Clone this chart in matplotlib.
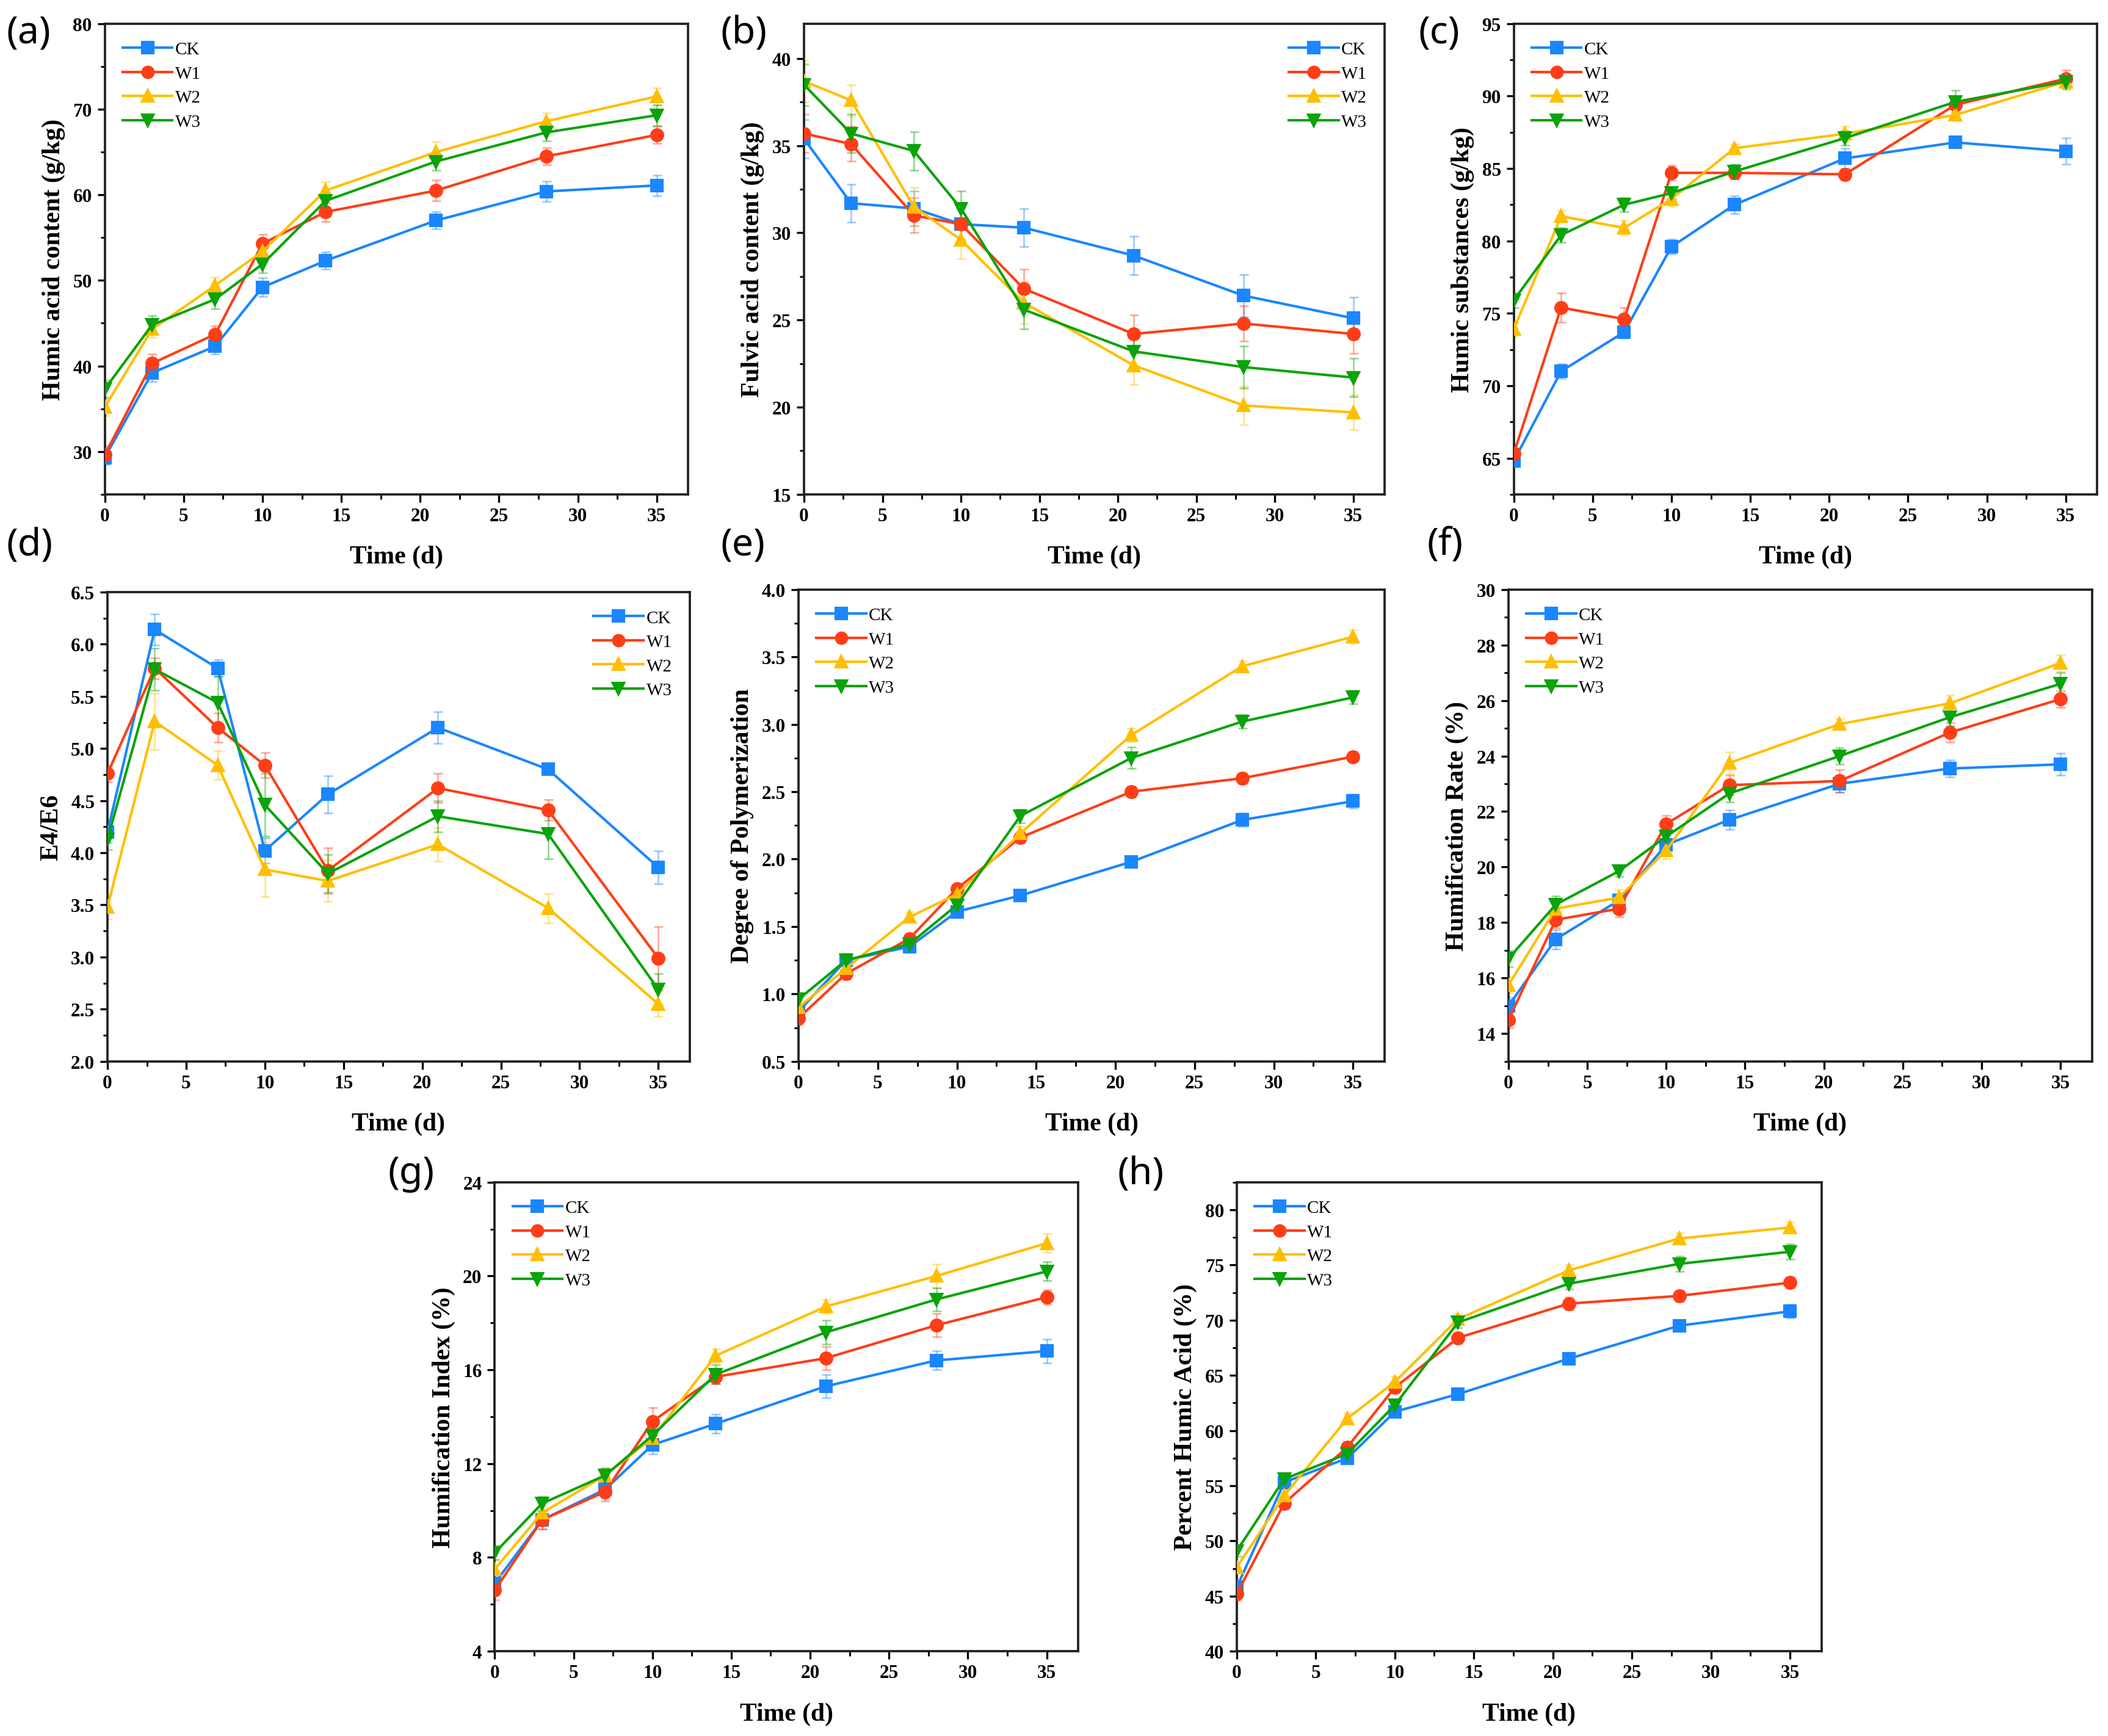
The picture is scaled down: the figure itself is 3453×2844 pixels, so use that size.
import matplotlib
matplotlib.use("Agg")
import matplotlib.pyplot as plt
from matplotlib.ticker import MultipleLocator, FormatStrFormatter

days = [0, 3, 7, 10, 14, 21, 28, 35]
groups = ["CK", "W1", "W2", "W3"]
colors = ["#1a86ff", "#ff3d17", "#ffbf00", "#0aa30a"]
markers = ["s", "o", "^", "v"]

# (a) Humic acid content (g/kg)
ha_ck = [29.3, 39.2, 42.3, 49.2, 52.3, 57.0, 60.4, 61.1]
ha_w1 = [29.6, 40.3, 43.7, 54.3, 58.0, 60.5, 64.5, 67.0]
ha_w2 = [35.2, 44.3, 49.4, 53.4, 60.5, 65.0, 68.6, 71.5]
ha_w3 = [37.3, 44.8, 47.8, 51.9, 59.3, 63.9, 67.3, 69.3]
ha_err_ck = [0.8, 1.0, 0.9, 1.1, 1.0, 1.0, 1.2, 1.2]
ha_err_w1 = [1.0, 1.1, 1.0, 1.1, 1.1, 1.2, 1.0, 1.0]
ha_err_w2 = [1.0, 1.0, 1.0, 1.2, 1.0, 1.2, 1.0, 1.0]
ha_err_w3 = [1.0, 1.1, 1.1, 1.0, 1.0, 1.0, 1.0, 1.2]

# (b) Fulvic acid content (g/kg)
fa_ck = [35.4, 31.7, 31.4, 30.5, 30.3, 28.7, 26.4, 25.1]
fa_w1 = [35.7, 35.1, 31.0, 30.5, 26.8, 24.2, 24.8, 24.2]
fa_w2 = [38.7, 37.6, 31.5, 29.6, 26.0, 22.4, 20.1, 19.7]
fa_w3 = [38.5, 35.7, 34.7, 31.4, 25.6, 23.2, 22.3, 21.7]
fa_err_ck = [1.1, 1.1, 1.0, 0.9, 1.1, 1.1, 1.2, 1.2]
fa_err_w1 = [1.1, 1.0, 1.0, 1.0, 1.1, 1.1, 1.0, 1.1]
fa_err_w2 = [1.2, 0.9, 1.1, 1.1, 1.2, 1.1, 1.1, 1.0]
fa_err_w3 = [1.2, 1.1, 1.1, 1.0, 1.1, 1.0, 1.2, 1.1]

# (c) Humic substances (g/kg)
hs_ck = [64.8, 71.0, 73.7, 79.6, 82.5, 85.7, 86.8, 86.2]
hs_w1 = [65.3, 75.4, 74.6, 84.7, 84.7, 84.6, 89.4, 91.2]
hs_w2 = [73.9, 81.7, 80.9, 82.9, 86.4, 87.4, 88.7, 91.0]
hs_w3 = [75.9, 80.4, 82.5, 83.3, 84.8, 87.1, 89.6, 91.0]
hs_err_ck = [0.4, 0.5, 0.4, 0.5, 0.6, 0.7, 0.3, 0.9]
hs_err_w1 = [0.4, 1.0, 0.8, 0.5, 0.4, 0.4, 0.5, 0.6]
hs_err_w2 = [0.5, 0.4, 0.5, 0.5, 0.3, 0.5, 0.4, 0.4]
hs_err_w3 = [0.5, 0.5, 0.5, 0.4, 0.5, 0.5, 0.8, 0.5]

# (d) E4/E6
e46_ck = [4.20, 6.14, 5.77, 4.02, 4.56, 5.20, 4.80, 3.86]
e46_w1 = [4.76, 5.77, 5.20, 4.84, 3.83, 4.62, 4.41, 2.99]
e46_w2 = [3.48, 5.26, 4.84, 3.84, 3.73, 4.08, 3.47, 2.55]
e46_w3 = [4.13, 5.76, 5.44, 4.46, 3.80, 4.35, 4.18, 2.69]
e46_err_ck = [0.10, 0.15, 0.08, 0.12, 0.18, 0.15, 0.05, 0.16]
e46_err_w1 = [0.08, 0.10, 0.14, 0.12, 0.22, 0.14, 0.10, 0.30]
e46_err_w2 = [0.12, 0.27, 0.14, 0.26, 0.20, 0.16, 0.14, 0.12]
e46_err_w3 = [0.10, 0.20, 0.25, 0.30, 0.18, 0.15, 0.24, 0.15]

# (e) Degree of Polymerization
dp_ck = [0.87, 1.25, 1.35, 1.61, 1.73, 1.98, 2.29, 2.43]
dp_w1 = [0.82, 1.15, 1.41, 1.78, 2.16, 2.50, 2.60, 2.76]
dp_w2 = [0.90, 1.19, 1.57, 1.74, 2.19, 2.92, 3.43, 3.65]
dp_w3 = [0.96, 1.25, 1.37, 1.66, 2.32, 2.75, 3.02, 3.20]
dp_err_ck = [0.04, 0.04, 0.04, 0.04, 0.04, 0.04, 0.05, 0.05]
dp_err_w1 = [0.05, 0.04, 0.04, 0.04, 0.04, 0.04, 0.04, 0.04]
dp_err_w2 = [0.05, 0.05, 0.04, 0.05, 0.05, 0.05, 0.04, 0.05]
dp_err_w3 = [0.05, 0.05, 0.05, 0.05, 0.05, 0.08, 0.05, 0.05]

# (f) Humification Rate (%)
hr_ck = [15.0, 17.4, 18.8, 20.8, 21.7, 23.0, 23.55, 23.7]
hr_w1 = [14.5, 18.1, 18.5, 21.55, 22.95, 23.1, 24.85, 26.05]
hr_w2 = [15.75, 18.5, 18.9, 20.6, 23.75, 25.15, 25.9, 27.35]
hr_w3 = [16.7, 18.65, 19.85, 21.1, 22.65, 24.0, 25.4, 26.6]
hr_err_ck = [0.30, 0.35, 0.25, 0.35, 0.35, 0.30, 0.30, 0.40]
hr_err_w1 = [0.30, 0.30, 0.30, 0.30, 0.35, 0.40, 0.35, 0.30]
hr_err_w2 = [0.30, 0.30, 0.30, 0.30, 0.40, 0.20, 0.30, 0.30]
hr_err_w3 = [0.30, 0.30, 0.20, 0.30, 0.30, 0.30, 0.30, 0.40]

# (g) Humification Index (%)
hi_ck = [6.9, 9.6, 10.9, 12.8, 13.7, 15.3, 16.4, 16.8]
hi_w1 = [6.6, 9.6, 10.8, 13.8, 15.7, 16.5, 17.9, 19.1]
hi_w2 = [7.5, 9.9, 11.5, 13.1, 16.6, 18.7, 20.0, 21.4]
hi_w3 = [8.2, 10.3, 11.5, 13.2, 15.8, 17.6, 19.0, 20.2]
hi_err_ck = [0.4, 0.4, 0.4, 0.4, 0.4, 0.5, 0.4, 0.5]
hi_err_w1 = [0.4, 0.4, 0.4, 0.6, 0.3, 0.5, 0.5, 0.3]
hi_err_w2 = [0.4, 0.4, 0.3, 0.3, 0.3, 0.3, 0.5, 0.4]
hi_err_w3 = [0.3, 0.3, 0.3, 0.3, 0.4, 0.5, 0.5, 0.4]

# (h) Percent Humic Acid (%)
pha_ck = [45.8, 55.3, 57.5, 61.7, 63.3, 66.5, 69.5, 70.8]
pha_w1 = [45.2, 53.4, 58.5, 63.9, 68.4, 71.5, 72.2, 73.4]
pha_w2 = [47.6, 54.1, 61.1, 64.4, 70.1, 74.5, 77.4, 78.4]
pha_w3 = [49.1, 55.6, 57.9, 62.3, 69.8, 73.3, 75.1, 76.2]
pha_err_ck = [0.6, 0.5, 0.5, 0.5, 0.5, 0.5, 0.5, 0.6]
pha_err_w1 = [0.6, 0.5, 0.5, 0.5, 0.5, 0.6, 0.5, 0.5]
pha_err_w2 = [0.5, 0.6, 0.5, 0.5, 0.5, 0.5, 0.5, 0.5]
pha_err_w3 = [0.5, 0.5, 0.5, 0.5, 0.5, 0.5, 0.7, 0.7]

panels = [
    dict(tag="(a)", series=[ha_ck, ha_w1, ha_w2, ha_w3],
         errs=[ha_err_ck, ha_err_w1, ha_err_w2, ha_err_w3],
         ylabel="Humic acid content (g/kg)", ylim=(25, 80), major=10, minor=5,
         fmt="%d", leg="upper left",
         rect=[0.0497, 0.715, 0.2768, 0.271], tagpos=(0.003, 0.981)),
    dict(tag="(b)", series=[fa_ck, fa_w1, fa_w2, fa_w3],
         errs=[fa_err_ck, fa_err_w1, fa_err_w2, fa_err_w3],
         ylabel="Fulvic acid content (g/kg)", ylim=(15, 42), major=5, minor=2.5,
         fmt="%d", leg="upper right",
         rect=[0.3814, 0.715, 0.2755, 0.271], tagpos=(0.342, 0.981)),
    dict(tag="(c)", series=[hs_ck, hs_w1, hs_w2, hs_w3],
         errs=[hs_err_ck, hs_err_w1, hs_err_w2, hs_err_w3],
         ylabel="Humic substances (g/kg)", ylim=(62.5, 95), major=5, minor=2.5,
         fmt="%d", leg="upper left",
         rect=[0.7181, 0.715, 0.2768, 0.271], tagpos=(0.673, 0.981)),
    dict(tag="(d)", series=[e46_ck, e46_w1, e46_w2, e46_w3],
         errs=[e46_err_ck, e46_err_w1, e46_err_w2, e46_err_w3],
         ylabel="E4/E6", ylim=(2.0, 6.5), major=0.5, minor=0.25,
         fmt="%.1f", leg="upper right",
         rect=[0.0510, 0.3885, 0.2762, 0.2702], tagpos=(0.003, 0.686)),
    dict(tag="(e)", series=[dp_ck, dp_w1, dp_w2, dp_w3],
         errs=[dp_err_ck, dp_err_w1, dp_err_w2, dp_err_w3],
         ylabel="Degree of Polymerization", ylim=(0.5, 4.0), major=0.5, minor=0.25,
         fmt="%.1f", leg="upper left",
         rect=[0.3788, 0.3885, 0.2781, 0.2717], tagpos=(0.342, 0.686)),
    dict(tag="(f)", series=[hr_ck, hr_w1, hr_w2, hr_w3],
         errs=[hr_err_ck, hr_err_w1, hr_err_w2, hr_err_w3],
         ylabel="Humification Rate (%)", ylim=(13, 30), major=2, minor=1,
         fmt="%d", leg="upper left",
         rect=[0.7156, 0.3885, 0.2768, 0.2717], tagpos=(0.677, 0.686)),
    dict(tag="(g)", series=[hi_ck, hi_w1, hi_w2, hi_w3],
         errs=[hi_err_ck, hi_err_w1, hi_err_w2, hi_err_w3],
         ylabel="Humification Index (%)", ylim=(4, 24), major=4, minor=2,
         fmt="%d", leg="upper left",
         rect=[0.2347, 0.0488, 0.2768, 0.2701], tagpos=(0.184, 0.324)),
    dict(tag="(h)", series=[pha_ck, pha_w1, pha_w2, pha_w3],
         errs=[pha_err_ck, pha_err_w1, pha_err_w2, pha_err_w3],
         ylabel="Percent Humic Acid (%)", ylim=(40, 82.5), major=5, minor=2.5,
         fmt="%d", leg="upper left",
         rect=[0.5867, 0.0488, 0.2774, 0.2701], tagpos=(0.530, 0.324)),
]

serif = ["Liberation Serif", "DejaVu Serif"]
fig = plt.figure(figsize=(3453 / 300, 2845 / 300), dpi=300)

for p in panels:
    ax = fig.add_axes(p["rect"])
    for name, vals, err, c, m in zip(groups, p["series"], p["errs"], colors, markers):
        ax.errorbar(days, vals, yerr=err, fmt="none", ecolor=c, alpha=0.4,
                    elinewidth=0.7, capsize=1.8, capthick=0.7, zorder=2)
        ax.plot(days, vals, color=c, marker=m, markersize=4.5, linewidth=1.0,
                label=name, zorder=3)
    ax.set_xlim(0, 37)
    ax.set_ylim(*p["ylim"])
    ax.xaxis.set_major_locator(MultipleLocator(5))
    ax.xaxis.set_minor_locator(MultipleLocator(2.5))
    ax.yaxis.set_major_locator(MultipleLocator(p["major"]))
    ax.yaxis.set_minor_locator(MultipleLocator(p["minor"]))
    ax.yaxis.set_major_formatter(FormatStrFormatter(p["fmt"]))
    ax.tick_params(which="both", direction="out", top=False, right=False)
    ax.tick_params(which="major", length=3.0, width=0.8, pad=2)
    ax.tick_params(which="minor", length=1.8, width=0.7)
    for lab in ax.get_xticklabels() + ax.get_yticklabels():
        lab.set_fontfamily(serif)
        lab.set_fontweight("bold")
        lab.set_fontsize(7.5)
    for s in ax.spines.values():
        s.set_linewidth(0.9)
        s.set_color("#222222")
    ax.set_xlabel("Time (d)", fontfamily=serif, fontweight="bold", fontsize=10, labelpad=8)
    ax.set_ylabel(p["ylabel"], fontfamily=serif, fontweight="bold", fontsize=10, labelpad=3)
    ax.legend(loc=p["leg"], frameon=False, prop={"family": serif, "size": 7},
              handlelength=2.8, handletextpad=0.15, labelspacing=0.45,
              borderaxespad=0.6, markerscale=0.95)
    fig.text(p["tagpos"][0], p["tagpos"][1], p["tag"], fontsize=15,
             family=["Noto Sans", "DejaVu Sans"], va="center", ha="left")

fig.savefig("out.png", dpi=300)
